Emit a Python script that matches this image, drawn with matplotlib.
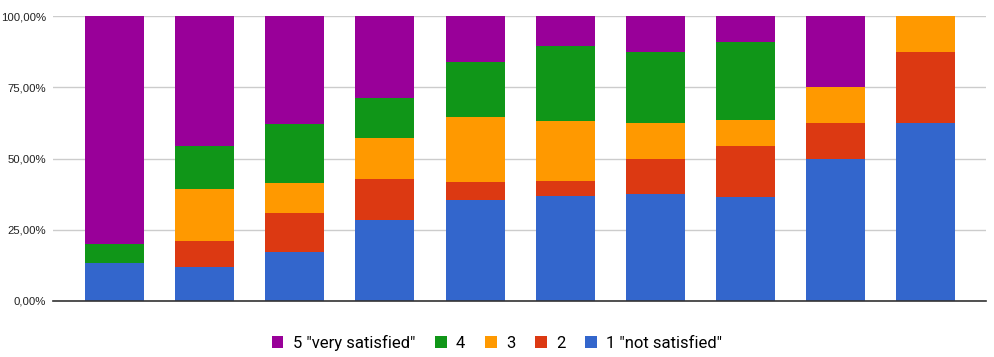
import numpy as np
import matplotlib
matplotlib.use("Agg")
import matplotlib.pyplot as plt
from matplotlib.patches import Patch
from matplotlib.ticker import FuncFormatter

# share of answers per group (percent)
not_satisfied = [13.3, 12.1, 17.2, 28.6, 35.5, 36.8, 37.5, 36.4, 50.0, 62.5]
two = [0.0, 9.1, 13.8, 14.3, 6.4, 5.3, 12.5, 18.1, 12.5, 25.0]
three = [0.0, 18.2, 10.4, 14.2, 22.6, 21.1, 12.5, 9.1, 12.5, 12.5]
four = [6.7, 15.1, 20.7, 14.3, 19.4, 26.3, 25.0, 27.3, 0.0, 0.0]
very_satisfied = [80.0, 45.5, 37.9, 28.6, 16.1, 10.5, 12.5, 9.1, 25.0, 0.0]

series = [
    ('1 "not satisfied"', not_satisfied, "#3366cc"),
    ("2", two, "#dc3912"),
    ("3", three, "#ff9900"),
    ("4", four, "#109618"),
    ('5 "very satisfied"', very_satisfied, "#990099"),
]

fig = plt.figure(figsize=(9.94, 3.57), dpi=100)
ax = fig.add_axes([53 / 994, 56 / 357, 933 / 994, 284.7 / 357])

x = np.arange(len(not_satisfied))
bottom = np.zeros(len(x))
handles = []
for name, vals, col in series:
    ax.bar(x, vals, bottom=bottom, width=0.655, color=col, zorder=2)
    bottom += np.array(vals)
    handles.append(Patch(facecolor=col, label=name))

ax.set_xlim(-0.683, 9.67)
ax.set_ylim(0, 100)
ax.set_yticks([0, 25, 50, 75, 100])
ax.yaxis.set_major_formatter(FuncFormatter(lambda v, p: f"{v:.2f}%".replace(".", ",")))
ax.set_xticks([])
ax.grid(axis="y", color="#cccccc", linewidth=1, zorder=0)
for s in ["top", "right", "left"]:
    ax.spines[s].set_visible(False)
ax.spines["bottom"].set_color("#333333")
ax.spines["bottom"].set_linewidth(1.2)
ax.spines["bottom"].set_zorder(3)
ax.tick_params(axis="y", length=0, pad=5, labelsize=8.2, labelcolor="#222222")
for t in ax.get_yticklabels():
    t.set_fontfamily("Liberation Sans")

fig.legend(handles=handles[::-1], loc="center", bbox_to_anchor=(0.5, 14 / 357),
           ncol=5, frameon=False, handlelength=0.7, handleheight=0.7,
           handletextpad=0.55, columnspacing=1.2,
           prop={"family": "Roboto", "size": 12})

fig.savefig("out.png", dpi=100)
